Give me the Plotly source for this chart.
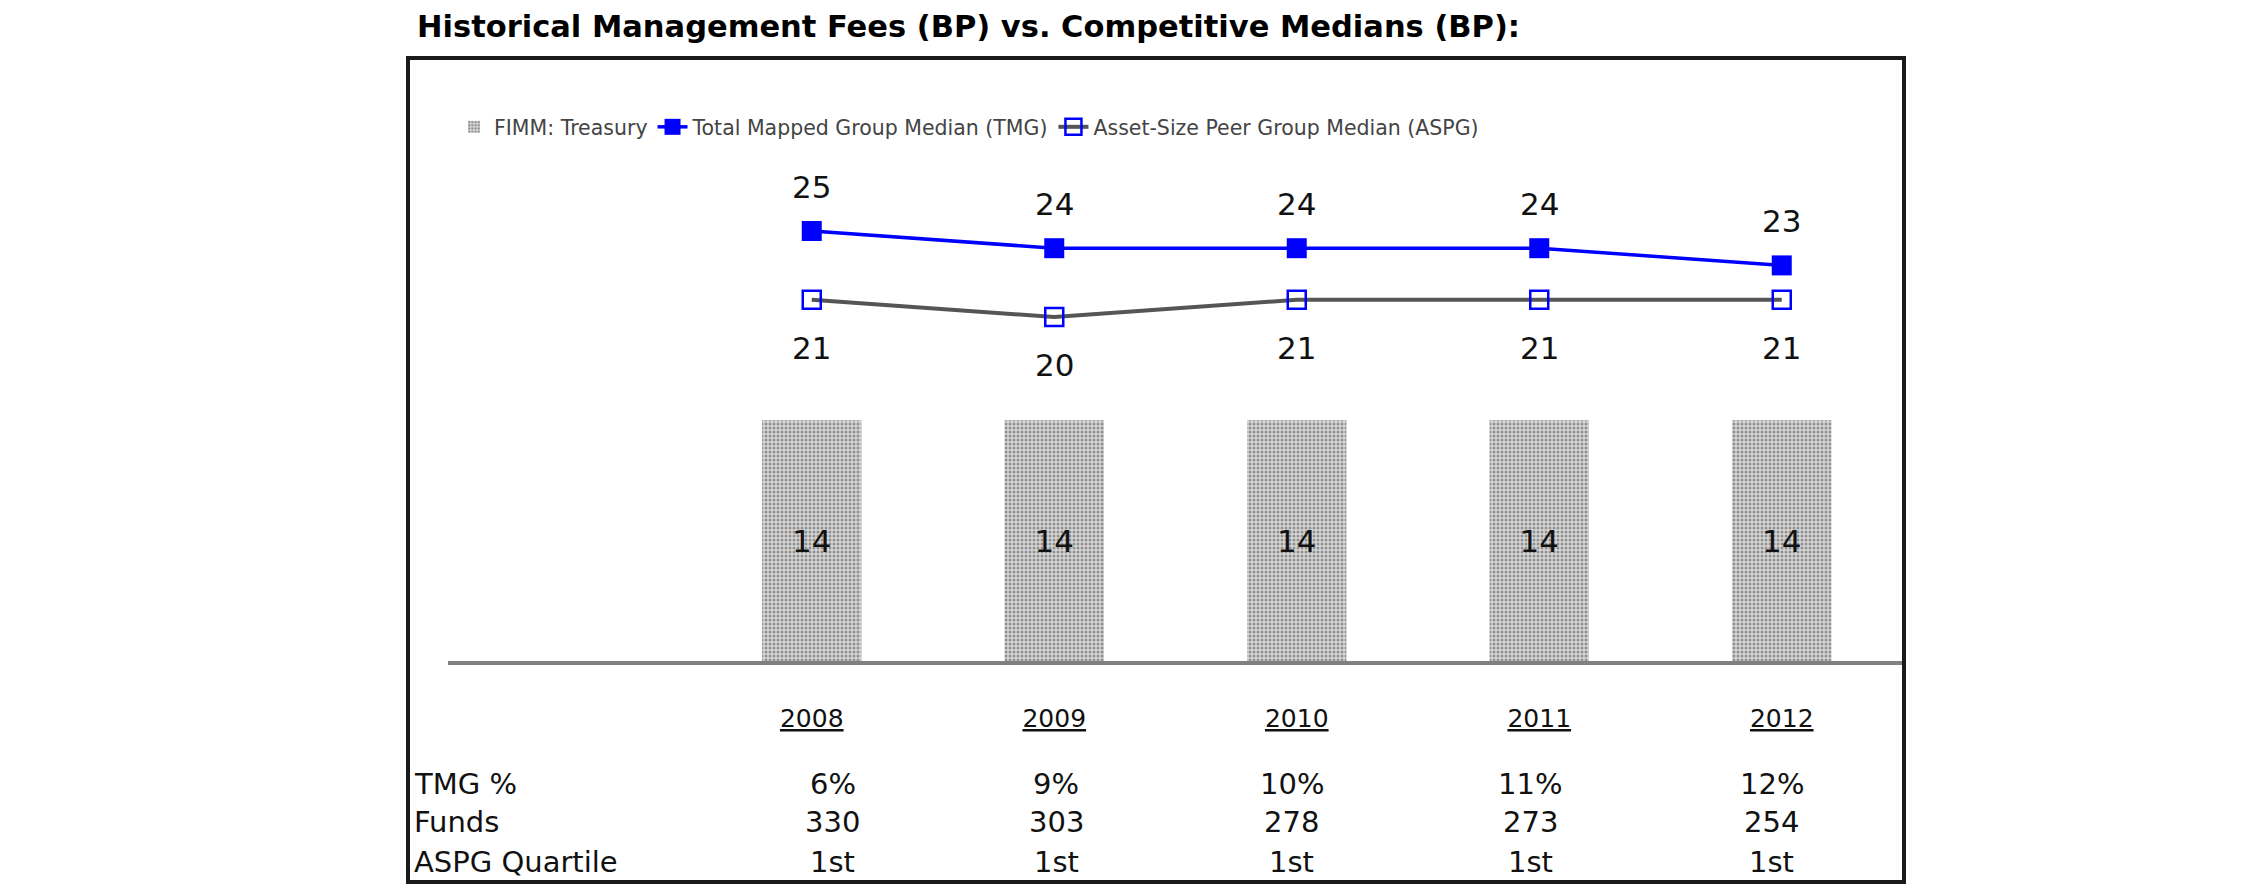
import plotly.graph_objects as go

years = ["2008", "2009", "2010", "2011", "2012"]
fimm_treasury = [14, 14, 14, 14, 14]
tmg_median = [25, 24, 24, 24, 23]
aspg_median = [21, 20, 21, 21, 21]
row_labels = ["TMG %", "Funds", "ASPG Quartile"]
tmg_pct = ["6%", "9%", "10%", "11%", "12%"]
funds = ["330", "303", "278", "273", "254"]
aspg_quartile = ["1st", "1st", "1st", "1st", "1st"]

# small horizontal nudges (px) of the table columns, as laid out in the original
table_col_shift = [21, 2, -5, -9, -10]

W, H = 2250, 895
L, R, T, B = 440, 355, 150, 242
plot_h = H - T - B
PX_PER_UNIT = 17.2

def py(pix):
    return (H - B - pix) / plot_h

def px(pix):
    return (pix - L) / (W - L - R)

FONT = "DejaVu Sans"
TXT = "#111111"
idx = list(range(len(years)))

fig = go.Figure()
fig.add_trace(go.Bar(
    x=idx, y=fimm_treasury, name="FIMM: Treasury",
    width=0.41,
    marker=dict(color="#cfcfcf", line=dict(width=0),
                pattern=dict(shape=".", fgcolor="#4a4a4a", bgcolor="#d6d6d6", size=4, solidity=0.45)),
    text=[str(v) for v in fimm_treasury], textposition="inside", insidetextanchor="middle",
    textfont=dict(family=FONT, size=31, color=TXT),
))
fig.add_trace(go.Scatter(
    x=idx, y=tmg_median, name="Total Mapped Group Median (TMG)", mode="lines+markers",
    line=dict(color="#0000ff", width=3.5),
    marker=dict(symbol="square", size=20, color="#0000ff"),
))
fig.add_trace(go.Scatter(
    x=idx, y=aspg_median, name="Asset-Size Peer Group Median (ASPG)", mode="lines+markers",
    line=dict(color="#555555", width=4),
    marker=dict(symbol="square-open", size=18, color="#0000ff", line=dict(width=2.5, color="#0000ff")),
))

ann = []
for i, v in zip(idx, tmg_median):
    ann.append(dict(x=i, y=v, text=str(v), showarrow=False, yshift=44,
                    font=dict(family=FONT, size=31, color=TXT)))
for i, v in zip(idx, aspg_median):
    ann.append(dict(x=i, y=v, text=str(v), showarrow=False, yshift=-48,
                    font=dict(family=FONT, size=31, color=TXT)))

row_y = [776, 814, 854]
for lab, yy in zip(row_labels, row_y):
    ann.append(dict(xref="paper", yref="paper", x=px(404), y=py(yy), text=lab, showarrow=False,
                    xanchor="left", yanchor="middle", font=dict(family=FONT, size=29, color=TXT)))
for vals, yy in zip([tmg_pct, funds, aspg_quartile], row_y):
    for i, v, sh in zip(idx, vals, table_col_shift):
        ann.append(dict(x=i, yref="paper", y=py(yy), text=v, showarrow=False, yanchor="middle",
                        xshift=sh, font=dict(family=FONT, size=29, color=TXT)))

ann.append(dict(xref="paper", yref="paper", x=px(407), y=py(19), xanchor="left", yanchor="middle",
                text="<b>Historical Management Fees (BP) vs. Competitive Medians (BP):</b>",
                showarrow=False, font=dict(family=FONT, size=30.5, color="#000000")))

fig.add_shape(type="rect", xref="paper", yref="paper",
              x0=px(400), x1=px(1896), y0=py(874), y1=py(50),
              line=dict(color="#1a1a1a", width=4), fillcolor="rgba(0,0,0,0)")

fig.update_layout(
    width=W, height=H,
    margin=dict(l=L, r=R, t=T, b=B),
    paper_bgcolor="white", plot_bgcolor="white",
    showlegend=True,
    legend=dict(orientation="h", x=px(446), y=py(119), xanchor="left", yanchor="middle",
                font=dict(family=FONT, size=20.5, color="#444444"), bgcolor="rgba(0,0,0,0)",
                traceorder="normal"),
    xaxis=dict(range=[-1.5, 4.5], tickmode="array", tickvals=idx, ticktext=years,
               showgrid=False, zeroline=False,
               showline=True, linecolor="#808080", linewidth=4, ticks="",
               ticklabelstandoff=32,
               tickfont=dict(family=FONT, size=25, color=TXT, lineposition="under")),
    yaxis=dict(range=[0, plot_h / PX_PER_UNIT], visible=False, showgrid=False, zeroline=False),
    annotations=ann,
)

fig.write_html("out.html")
